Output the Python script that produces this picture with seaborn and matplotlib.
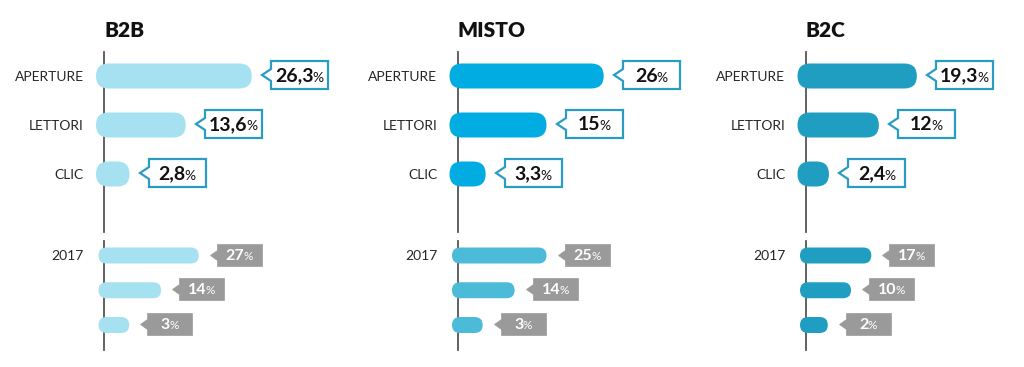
import matplotlib
matplotlib.use("Agg")
import matplotlib.pyplot as plt
import seaborn as sns
from matplotlib.patches import FancyBboxPatch
from matplotlib.path import Path
from matplotlib.offsetbox import TextArea, HPacker, AnnotationBbox

# dati
groups = ["B2B", "MISTO", "B2C"]
metrics = ["APERTURE", "LETTORI", "CLIC"]
year_labels = ["2017", "", ""]

b2b_now = [26.3, 13.6, 2.8]
misto_now = [26, 15, 3.3]
b2c_now = [19.3, 12, 2.4]

b2b_2017 = [27, 14, 3]
misto_2017 = [25, 14, 3]
b2c_2017 = [17, 10, 2]

top_colors = ["#a6e1f2", "#00ace2", "#209ec1"]
low_colors = ["#a6e1f2", "#4cbbd7", "#209ec1"]

sns.set_style("white")
plt.rcParams['font.family'] = ['Lato', 'DejaVu Sans']

W, H = 1024, 367
spine_px = [104, 457.5, 805.5]
panel_w = 215

# geometria delle due fasce (pixel)
top_cfg = dict(y0=52, y1=232, a=5.2, b=19, over=8, bar=25, row=49, first=24,
               box_w=57, box_h=28, notch=9, nh=6, dy=1.5, gap=10)
low_cfg = dict(y0=241, y1=350, a=2.9, b=22, over=5.5, bar=16, row=34.75, first=14.5,
               box_w=45, box_h=22, notch=7, nh=5, dy=1.0, gap=11)


def callout_style(w, h, notch, nh, dy):
    """box a larghezza fissa con punta verso sinistra"""
    def style(x0, y0, width, height, mutation_size):
        cx = x0 + width / 2
        cy = y0 + height / 2 + dy
        l, r = cx - w / 2, cx + w / 2
        b, t = cy - h / 2, cy + h / 2
        verts = [(l, b), (r, b), (r, t), (l, t), (l, cy + nh),
                 (l - notch, cy), (l, cy - nh), (l, b)]
        return Path(verts, closed=True)
    return style


def fmt(v):
    return f"{v:g}".replace(".", ",")


def draw_row(ax, values, labels, color, cfg, boxed):
    a = cfg['a']
    c = cfg['b'] / a
    ax_h = cfg['y1'] - cfg['y0']
    sns.barplot(x=values, y=metrics, orient="h", color=color, saturation=1,
                width=cfg['bar'] / cfg['row'], errorbar=None, ax=ax)

    left = -c + cfg['over'] / a
    ax.set_xlim(left, left + panel_w / a)
    ytop = -cfg['first'] / cfg['row']
    ax.set_ylim(ytop + ax_h / cfg['row'], ytop)

    # barre arrotondate
    m = (1 / cfg['row']) / (1 / a)
    for p in list(ax.patches):
        x1 = p.get_x() + p.get_width()
        y, h = p.get_y(), p.get_height()
        p.remove()
        r = (h / m) / 2
        fb = FancyBboxPatch((-c, y), x1 + c, h,
                            boxstyle=f"round,pad=0,rounding_size={r}",
                            mutation_aspect=m, fc=color, ec="none",
                            clip_on=False, zorder=3)
        ax.add_patch(fb)

    style = callout_style(cfg['box_w'], cfg['box_h'], cfg['notch'], cfg['nh'], cfg['dy'])
    off = (cfg['gap'] + cfg['notch'] + cfg['box_w'] / 2) * 72 / 100
    for i, v in enumerate(values):
        if boxed:
            num = TextArea(fmt(v), textprops=dict(fontsize=14, fontweight="bold", color="#111111"))
            pct = TextArea("%", textprops=dict(fontsize=10, color="#111111"))
            props = dict(boxstyle=style, fc="white", ec="#2a9cc4", lw=1.6)
        else:
            num = TextArea(fmt(v), textprops=dict(fontsize=11.5, fontweight="bold", color="white"))
            pct = TextArea("%", textprops=dict(fontsize=8.5, color="white"))
            props = dict(boxstyle=style, fc="#9a9a9a", ec="#9a9a9a", lw=0.5)
        hp = HPacker(children=[num, pct], align="baseline", pad=0, sep=-0.8)
        ab = AnnotationBbox(hp, xy=(v, i), xycoords="data", xybox=(off, 0),
                            boxcoords="offset points", box_alignment=(0.5, 0.5),
                            frameon=True, pad=0, bboxprops=props,
                            annotation_clip=False, zorder=4)
        ax.add_artist(ab)

    ax.set_yticks(range(len(labels)))
    ax.set_yticklabels(labels)
    ax.tick_params(axis="y", length=0, pad=14.5, labelsize=10, labelcolor="#262626")
    ax.set_xticks([])
    ax.set_xlabel("")
    ax.set_ylabel("")
    for s in ["top", "right", "bottom"]:
        ax.spines[s].set_visible(False)
    ax.spines["left"].set_color("#555555")
    ax.spines["left"].set_linewidth(1.3)
    ax.set_facecolor("none")


fig = plt.figure(figsize=(10.24, 3.67), dpi=100)

now_sets = [b2b_now, misto_now, b2c_now]
old_sets = [b2b_2017, misto_2017, b2c_2017]

for k, g in enumerate(groups):
    x = spine_px[k]
    ax_t = fig.add_axes([x / W, 1 - top_cfg['y1'] / H, panel_w / W,
                         (top_cfg['y1'] - top_cfg['y0']) / H])
    ax_l = fig.add_axes([x / W, 1 - low_cfg['y1'] / H, panel_w / W,
                         (low_cfg['y1'] - low_cfg['y0']) / H])
    draw_row(ax_t, now_sets[k], metrics, top_colors[k], top_cfg, True)
    draw_row(ax_l, old_sets[k], year_labels, low_colors[k], low_cfg, False)
    ax_t.set_title(g, loc="left", fontsize=15, fontweight="heavy", pad=11, color="#111111")

fig.savefig("out.png", dpi=100)
